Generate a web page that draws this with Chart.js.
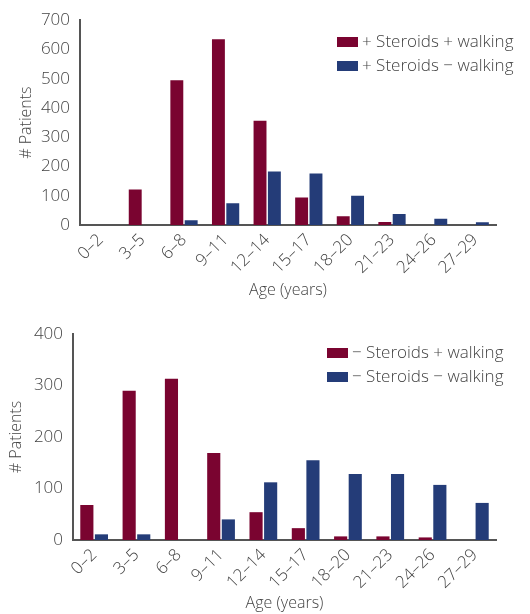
<!DOCTYPE html>
<html>
<head>
<meta charset="utf-8">
<script src="https://cdn.jsdelivr.net/npm/chart.js@4/dist/chart.umd.min.js"></script>
<style>
  body { margin: 0; background: #fff; font-family: "Open Sans", sans-serif; }
  .wrap { position: absolute; left: 0; width: 530px; }
  #top { top: 0; height: 305px; }
  #bottom { top: 305px; height: 309px; }
  .legend { position: absolute; font-size: 17px; font-weight: 300; color: #444; }
  .legend div { height: 24px; line-height: 24px; white-space: nowrap; }
  .legend span { display: inline-block; width: 21px; height: 10px; margin-right: 4px; vertical-align: 0px; }
</style>
</head>
<body>
<div class="wrap" id="top"><canvas id="chartTop"></canvas>
  <div class="legend" style="left:337px; top:29px;">
    <div><span style="background:#7a0430"></span>+ Steroids + walking</div>
    <div><span style="background:#243c78"></span>+ Steroids − walking</div>
  </div>
</div>
<div class="wrap" id="bottom"><canvas id="chartBottom"></canvas>
  <div class="legend" style="left:327px; top:35px;">
    <div><span style="background:#7a0430"></span>− Steroids + walking</div>
    <div><span style="background:#243c78"></span>− Steroids − walking</div>
  </div>
</div>
<script>
const ageGroups = ["0–2", "3–5", "6–8", "9–11", "12–14", "15–17", "18–20", "21–23", "24–26", "27–29"];

// + steroids
const steroidsWalking = [0, 121, 495, 635, 356, 94, 30, 10, 0, 0];
const steroidsNotWalking = [0, 0, 16, 74, 183, 176, 100, 38, 21, 9];

// - steroids
const noSteroidsWalking = [68, 290, 313, 169, 54, 23, 7, 7, 5, 0];
const noSteroidsNotWalking = [11, 11, 0, 40, 112, 155, 128, 128, 107, 72];

const red = "#7a0430";
const blue = "#243c78";
const textColor = "#444444";
const axisColor = "#555555";

function makeChart(id, d1, d2, yMax, yWidth, xHeight, padTop, yTitlePad, xTitlePad) {
    const ctx = document.getElementById(id);
    return new Chart(ctx, {
        type: "bar",
        data: {
            labels: ageGroups,
            datasets: [
                { data: d1, backgroundColor: red, categoryPercentage: 0.69, barPercentage: 0.9 },
                { data: d2, backgroundColor: blue, categoryPercentage: 0.69, barPercentage: 0.9 }
            ]
        },
        options: {
            responsive: true,
            maintainAspectRatio: false,
            animation: false,
            layout: { padding: { top: padTop, right: 34, left: 0, bottom: 0 } },
            plugins: { legend: { display: false }, tooltip: { enabled: false } },
            scales: {
                x: {
                    grid: { display: false, drawTicks: false },
                    border: { display: true, color: axisColor, width: 2 },
                    ticks: {
                        color: textColor,
                        font: { family: "Open Sans", size: 17, weight: 300 },
                        minRotation: 45,
                        maxRotation: 45,
                        autoSkip: false,
                        padding: 5
                    },
                    title: {
                        display: true,
                        text: "Age (years)",
                        color: textColor,
                        font: { family: "Open Sans", size: 16, weight: 300 },
                        padding: { top: 0, bottom: xTitlePad }
                    },
                    afterFit: scale => { scale.height = xHeight; }
                },
                y: {
                    min: 0,
                    max: yMax,
                    grid: { display: false, drawTicks: false },
                    border: { display: true, color: axisColor, width: 2 },
                    ticks: {
                        stepSize: 100,
                        color: textColor,
                        font: { family: "Open Sans", size: 17, weight: 300 },
                        padding: 10
                    },
                    title: {
                        display: true,
                        text: "# Patients",
                        color: textColor,
                        font: { family: "Open Sans", size: 16, weight: 300 },
                        padding: { top: yTitlePad, bottom: 0 }
                    },
                    afterFit: scale => { scale.width = yWidth; }
                }
            }
        }
    });
}

makeChart("chartTop", steroidsWalking, steroidsNotWalking, 700, 80, 80, 19, 17, 5);
makeChart("chartBottom", noSteroidsWalking, noSteroidsNotWalking, 400, 73, 74, 29, 7, 1);
</script>
</body>
</html>
